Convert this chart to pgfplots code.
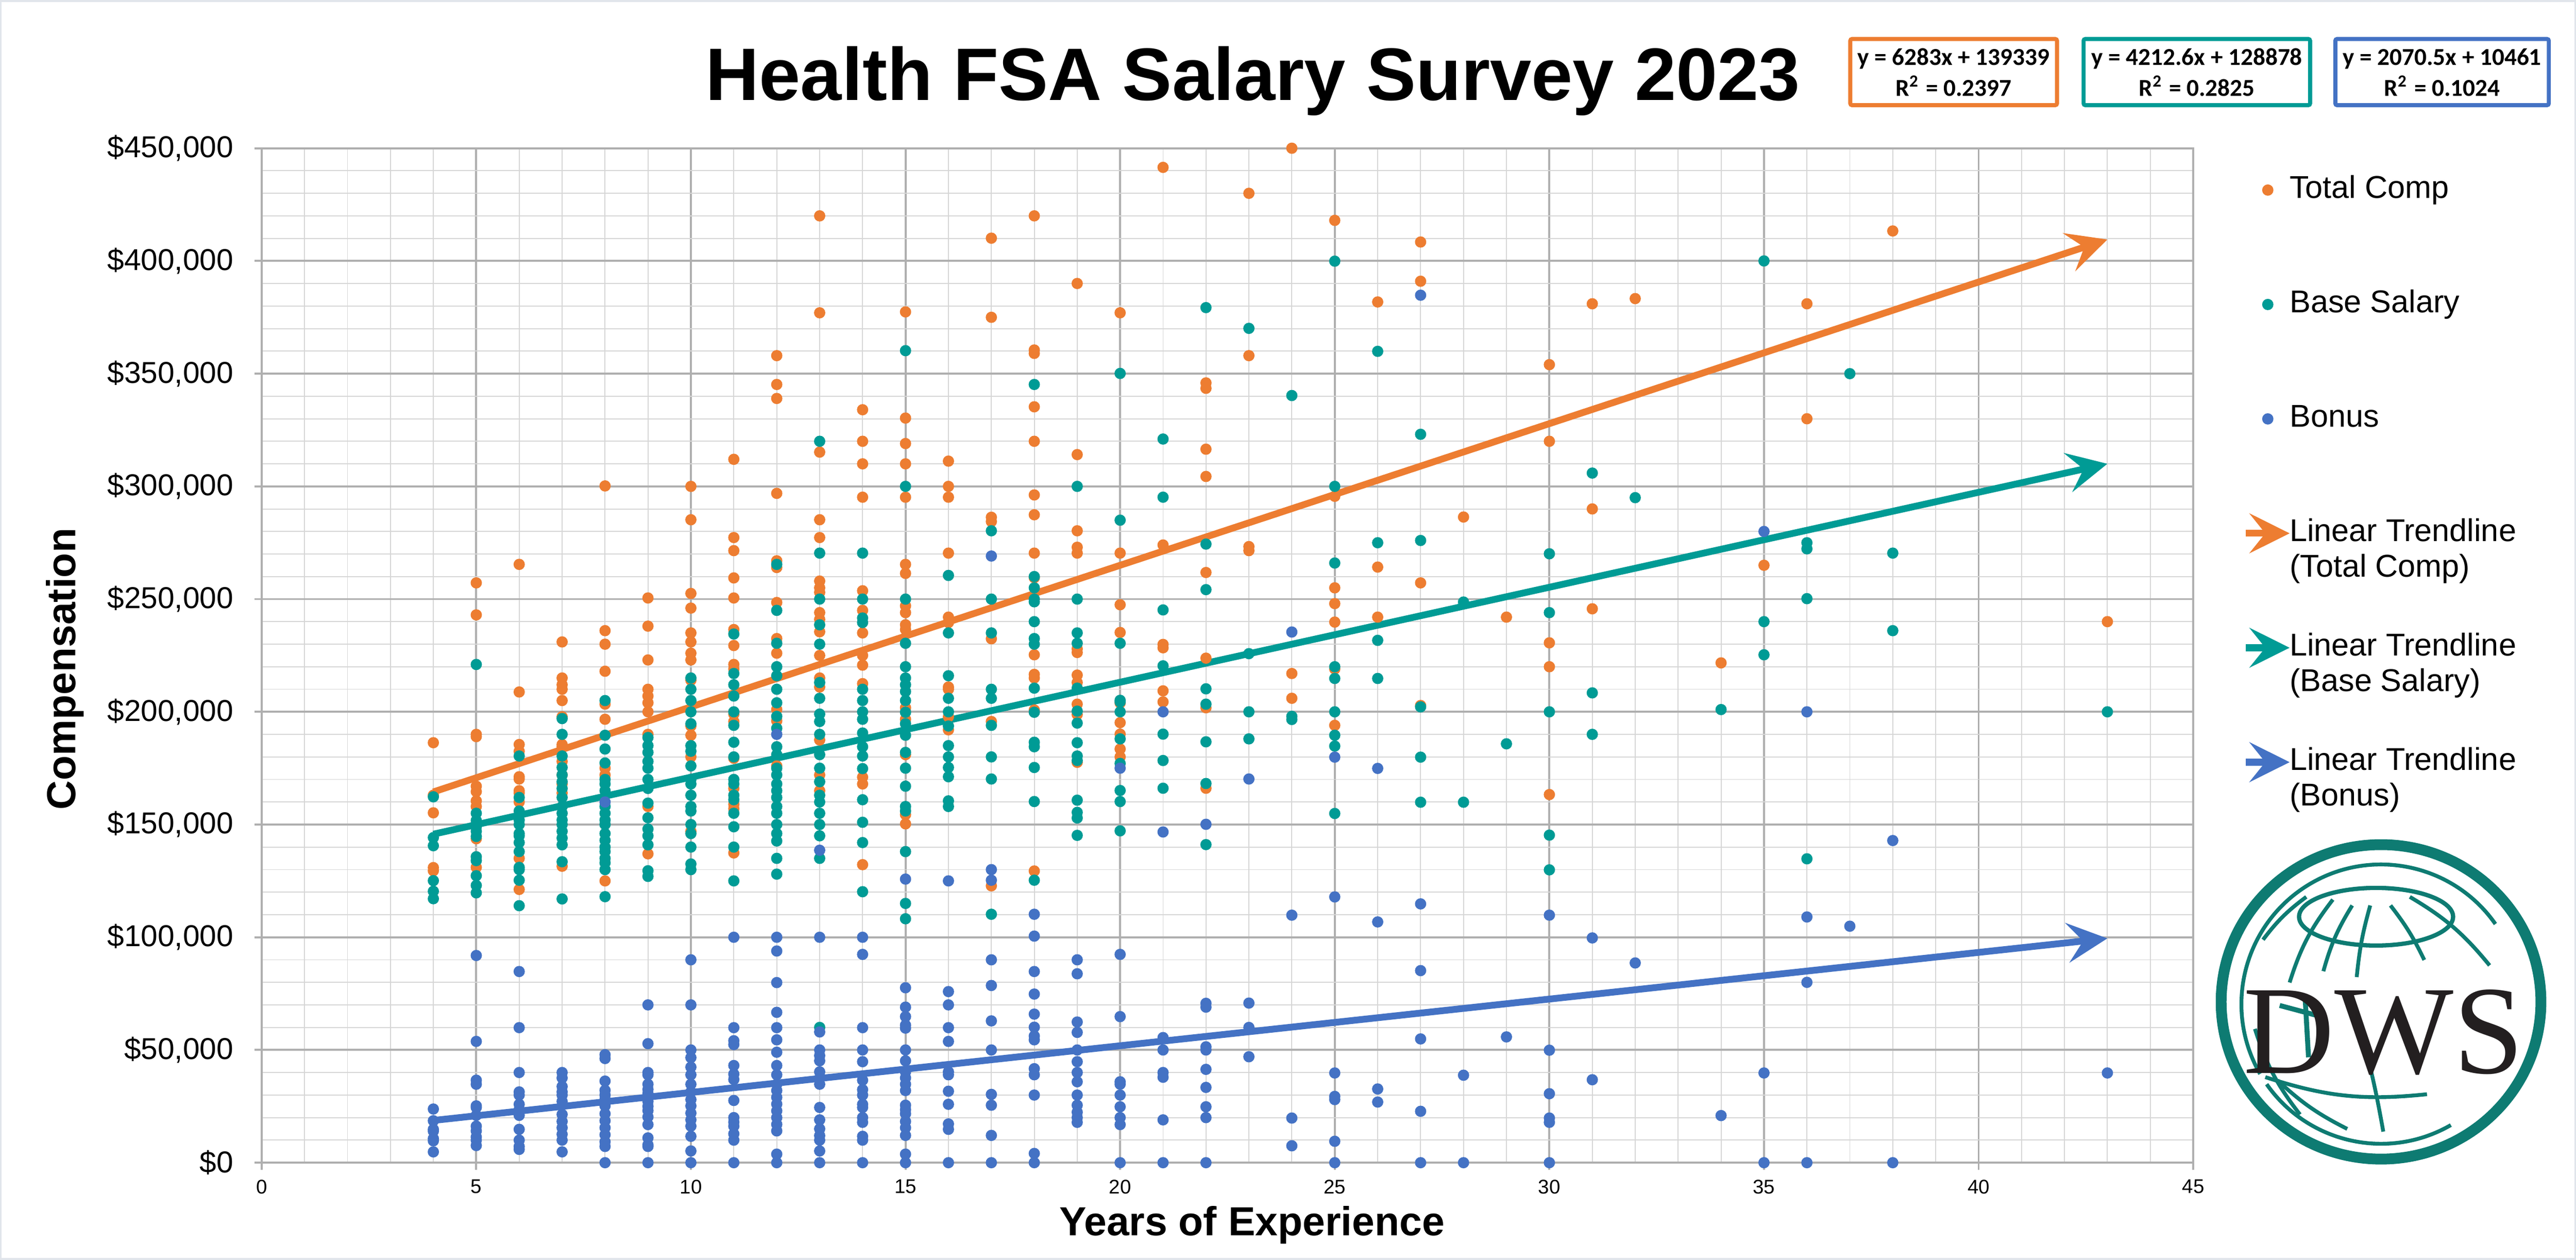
\documentclass[border=0pt]{standalone}
\usepackage{pgfplots}
\pgfplotsset{compat=1.18}
\usepackage{fontspec}
\setmainfont{Liberation Sans}
\newfontfamily\eqfont{Carlito}
\newfontfamily\logofont{Liberation Serif}
\usetikzlibrary{arrows.meta}
\definecolor{tcorange}{HTML}{ED7D31}
\definecolor{tcteal}{HTML}{009B95}
\definecolor{tcblue}{HTML}{4472C4}
\definecolor{gridmaj}{HTML}{AFAFAF}
\definecolor{gridmin}{HTML}{D6D6D6}
\definecolor{logoteal}{HTML}{0E7B72}
\definecolor{framecol}{HTML}{E1E5EB}
\definecolor{logoblack}{HTML}{231F20}
\tikzset{trendarrow/.style={-{Stealth[length=8.9pt,width=8.8pt,inset=3.5pt]}}}
\newcommand{\twoline}[2]{\raisebox{0pt}[5.1pt][1.5pt]{\begin{tabular}[t]{@{}l@{}}#1\\#2\end{tabular}}}
\begin{document}
\begin{tikzpicture}
\fill[white] (0,0) rectangle (572pt,279.7pt);
\useasboundingbox (0,0) rectangle (572pt,279.7pt);
\draw[framecol, line width=0.4pt] (0.2pt,0.2pt) rectangle (571.8pt,279.5pt);
\begin{axis}[
  at={(58.1pt,21.6pt)}, anchor=south west,
  scale only axis, width=428.9pt, height=225.2pt,
  xmin=0, xmax=45, ymin=0, ymax=450,
  xtick={0,5,...,45}, xticklabels={0,5,10,15,20,25,30,35,40,45},
  ytick={0,50,...,450},
  yticklabels={{\$0},{\$50,000},{\$100,000},{\$150,000},{\$200,000},{\$250,000},{\$300,000},{\$350,000},{\$400,000},{\$450,000}},
  minor x tick num=4, minor y tick num=4,
  grid=both,
  major grid style={gridmaj, line width=0.45pt},
  minor grid style={gridmin, line width=0.22pt},
  axis line style={gridmaj, line width=0.45pt},
  tick style={gridmaj, line width=0.45pt},
  major tick length=1.6pt, minor tick length=0pt, tick align=outside,
  xtick pos=bottom, ytick pos=left,
  clip=false,
  yticklabel style={anchor=east, inner sep=0pt, font=\fontsize{6.7}{8}\selectfont, xshift=-4.5pt},
  xticklabel style={anchor=north, inner sep=0pt, font=\fontsize{4.4}{5}\selectfont, yshift=-2pt},
  title={Health FSA Salary Survey 2023},
  every axis title/.style={at={(axis description cs:0.5132,1.0475)}, anchor=base, inner sep=0pt, font=\bfseries\fontsize{16.5}{18}\selectfont},
  xlabel={Years of Experience},
  xlabel style={at={(axis description cs:0.5127,-0.0719)}, anchor=base, inner sep=0pt, font=\bfseries\fontsize{9}{10}\selectfont},
  ylabel={Compensation},
  ylabel style={at={(axis description cs:-0.0965,0.4867)}, anchor=base, inner sep=0pt, font=\bfseries\fontsize{9}{10}\selectfont},
  legend style={at={(1.0273,0.9734)}, anchor=north west, draw=none, fill=none, inner sep=0pt, outer sep=0pt,
    font=\fontsize{7}{7.9}\selectfont, row sep=18.8pt,
    nodes={inner sep=0pt, text height=5.1pt, text depth=1.5pt}},
  legend cell align=left,
  /tikz/every even column/.append style={column sep=1.2pt},
]
% Total Comp
\addplot[only marks, mark=*, mark size=1.05pt, color=tcorange, mark options={draw=none, fill=tcorange},
  legend image code/.code={\fill[tcorange] (4.85pt,0pt) circle[radius=1.05pt]; \path[draw=none,fill=none] (0pt,0pt) (9.7pt,0pt);}]
coordinates {
(4,186.3) (4,163) (4,155.2) (4,130.9) (4,129.5)
(5,257.2) (5,243) (5,190) (5,189) (5,167) (5,164.6) (5,160.5) (5,158) (5,143.7) (5,131)
(6,265.4) (6,208.8) (6,185.5) (6,182.5) (6,171.2) (6,170.2) (6,165) (6,164) (6,160) (6,135) (6,121.2)
(7,231) (7,215) (7,212) (7,210) (7,205) (7,197.8) (7,185.5) (7,184.5) (7,178) (7,172) (7,168) (7,164) (7,131.5)
(8,300.2) (8,236) (8,230) (8,218) (8,203.4) (8,196.7) (8,175) (8,172) (8,125)
(9,250.5) (9,238) (9,223) (9,210) (9,207) (9,204) (9,200) (9,190) (9,158) (9,137)
(10,300) (10,285.2) (10,252.5) (10,246) (10,235) (10,231) (10,226) (10,223) (10,214) (10,193.7) (10,189.6) (10,180) (10,147)
(11,312) (11,277.3) (11,271.5) (11,259.4) (11,250.5) (11,236.5) (11,229.4) (11,221) (11,219) (11,199) (11,195.7) (11,179.4) (11,166) (11,159) (11,157) (11,137.4)
(12,358) (12,345.2) (12,339) (12,296.9) (12,267) (12,264) (12,248.5) (12,232.5) (12,226) (12,201) (12,196) (12,176)
(13,420) (13,377) (13,315.2) (13,285.2) (13,277.3) (13,258) (13,255) (13,253) (13,244) (13,241) (13,235.5) (13,225) (13,215) (13,211) (13,187.5) (13,172) (13,165)
(14,334) (14,320) (14,310) (14,295.2) (14,253.7) (14,245) (14,235) (14,225) (14,220.7) (14,212.5) (14,171) (14,168) (14,132.2)
(15,377.4) (15,330.3) (15,319) (15,310) (15,295.2) (15,265.4) (15,261.4) (15,247) (15,244) (15,238.6) (15,236.5) (15,201.8) (15,196.7) (15,181) (15,154.4) (15,150.3)
(16,311.2) (16,300) (16,295.2) (16,270.4) (16,242) (16,239.6) (16,211) (16,210) (16,197.8) (16,192)
(17,410.1) (17,375) (17,286.3) (17,284.4) (17,232.4) (17,195.7) (17,122.8)
(18,420) (18,360.5) (18,359) (18,335.3) (18,320) (18,296.2) (18,287.4) (18,270.4) (18,259.5) (18,225.3) (18,216.6) (18,215) (18,200.8) (18,129.4)
(19,390) (19,314.1) (19,280.3) (19,273) (19,270.4) (19,227.9) (19,226.3) (19,216.3) (19,213) (19,203.4) (19,198.8) (19,177.6)
(20,377) (20,270.4) (20,247.5) (20,235.2) (20,203.9) (20,195.2) (20,190.1) (20,183.5) (20,180)
(21,441.5) (21,274) (21,229.9) (21,228.4) (21,209.3) (21,204.4)
(22,345.9) (22,343.5) (22,316.5) (22,304.4) (22,261.8) (22,223.8) (22,201.8) (22,166.1)
(23,430) (23,358) (23,273.3) (23,271.5)
(24,450) (24,217) (24,206)
(25,418) (25,295.6) (25,255) (25,248) (25,239.8) (25,219) (25,194)
(26,381.8) (26,264.2) (26,242)
(27,408.4) (27,391) (27,257.2) (27,202.8)
(28,286.4) (29,242)
(30,354) (30,320) (30,230.6) (30,220) (30,163.3)
(31,381) (31,290) (31,245.7)
(32,383.3) (34,221.7) (35,265) (36,381) (36,330) (38,413.3) (43,240)
};
\addlegendentry{Total Comp}
% Base Salary
\addplot[only marks, mark=*, mark size=1.05pt, color=tcteal, mark options={draw=none, fill=tcteal},
  legend image code/.code={\fill[tcteal] (4.85pt,0pt) circle[radius=1.05pt]; \path[draw=none,fill=none] (0pt,0pt) (9.7pt,0pt);}]
coordinates {
(4,162.3) (4,144.2) (4,140.6) (4,125.1) (4,120.4) (4,117.1)
(5,221) (5,155) (5,151.8) (5,149) (5,147) (5,144.7) (5,135.7) (5,134) (5,127.3) (5,123) (5,119.7)
(6,180.4) (6,162) (6,156) (6,152) (6,150) (6,146) (6,145) (6,142) (6,138) (6,131) (6,130) (6,125.3) (6,114)
(7,197) (7,190) (7,180.4) (7,175.3) (7,172) (7,169) (7,166) (7,162) (7,158) (7,155) (7,152) (7,150) (7,147) (7,144) (7,141) (7,133.5) (7,117)
(8,205) (8,189.6) (8,183.5) (8,177.3) (8,170) (8,168) (8,165) (8,158) (8,155) (8,152) (8,150) (8,146) (8,143) (8,140) (8,138) (8,135) (8,133) (8,130) (8,118)
(9,188.6) (9,185) (9,182) (9,178) (9,175) (9,170) (9,166) (9,159.5) (9,153) (9,148) (9,145) (9,141) (9,129.5) (9,127)
(10,215) (10,210) (10,205) (10,200) (10,194.7) (10,185) (10,182.5) (10,176) (10,170) (10,168) (10,163) (10,158) (10,156) (10,150) (10,146) (10,140) (10,132.5) (10,130)
(11,234.5) (11,217) (11,212) (11,207) (11,200) (11,194) (11,186.5) (11,180) (11,170) (11,168) (11,163) (11,161) (11,155) (11,149) (11,140) (11,125)
(12,265.4) (12,245) (12,230.4) (12,220) (12,216) (12,210) (12,204) (12,198) (12,192.7) (12,184.5) (12,181) (12,175) (12,172) (12,168) (12,165) (12,162) (12,158) (12,155) (12,150) (12,146) (12,142.7) (12,135) (12,128)
(13,320) (13,270.4) (13,250) (13,238.6) (13,230) (13,213) (13,206) (13,199) (13,195.7) (13,190) (13,181) (13,175) (13,169) (13,163) (13,160) (13,155) (13,150) (13,145) (13,135) (13,60)
(14,270.4) (14,250) (14,241.6) (14,239.6) (14,210) (14,205) (14,200) (14,196.7) (14,190.6) (14,184.5) (14,180.4) (14,174.8) (14,161) (14,151) (14,142) (14,120.2)
(15,360.2) (15,300) (15,250) (15,230.4) (15,220) (15,215) (15,212) (15,209) (15,205) (15,199.8) (15,194.7) (15,189.6) (15,182) (15,175) (15,167) (15,158) (15,156) (15,138) (15,115) (15,108.2)
(16,260.5) (16,235) (16,216) (16,206) (16,200) (16,193.7) (16,185) (16,180) (16,175.3) (16,171.2) (16,160.5) (16,158)
(17,280.3) (17,250) (17,235) (17,210) (17,206) (17,194) (17,180) (17,170.2) (17,110.2)
(18,345.2) (18,260) (18,255) (18,250) (18,248.8) (18,240) (18,232.5) (18,230) (18,210.5) (18,199.8) (18,186.5) (18,184.5) (18,175.3) (18,160.2) (18,125.3)
(19,300) (19,250) (19,235) (19,230.4) (19,210.5) (19,200.3) (19,195) (19,186.3) (19,180.4) (19,178.4) (19,160.8) (19,155.4) (19,152.9) (19,145.2)
(20,350.1) (20,285) (20,230.4) (20,205.1) (20,204.4) (20,200) (20,188) (20,177.1) (20,165.1) (20,160.2) (20,147.2)
(21,321) (21,295.2) (21,245.2) (21,220.4) (21,190.1) (21,178.4) (21,166.1)
(22,379.3) (22,274.4) (22,254.2) (22,210.2) (22,203.4) (22,186.7) (22,168.2) (22,141.1)
(23,370.1) (23,225.8) (23,200) (23,188)
(24,340.3) (24,198) (24,196.6)
(25,399.9) (25,300) (25,266) (25,220) (25,214.8) (25,200) (25,189.6) (25,184.8) (25,154.9)
(26,359.9) (26,275) (26,231.7) (26,214.8)
(27,323.1) (27,276) (27,202.2) (27,179.9) (27,159.9)
(28,248.7) (28,159.9) (29,185.8)
(30,270.1) (30,244) (30,200) (30,145.3) (30,129.9)
(31,305.9) (31,208.4) (31,190) (32,295) (34,201)
(35,400) (35,240) (35,225.3)
(36,275) (36,272.3) (36,250.2) (36,134.8)
(37,350) (38,270.4) (38,236) (43,200)
};
\addlegendentry{Base Salary}
% Bonus
\addplot[only marks, mark=*, mark size=1.05pt, color=tcblue, mark options={draw=none, fill=tcblue},
  legend image code/.code={\fill[tcblue] (4.85pt,0pt) circle[radius=1.05pt]; \path[draw=none,fill=none] (0pt,0pt) (9.7pt,0pt);}]
coordinates {
(4,23.8) (4,18.6) (4,14.8) (4,14) (4,10.7) (4,9.7) (4,4.8)
(5,91.9) (5,53.8) (5,36.6) (5,34.8) (5,25.2) (5,24.5) (5,21) (5,16.2) (5,14.1) (5,11.4) (5,10) (5,7.6)
(6,84.8) (6,59.9) (6,40) (6,31.4) (6,30) (6,25.9) (6,23.5) (6,21) (6,14.8) (6,10) (6,7.2) (6,5.9)
(7,40) (7,37.6) (7,33.8) (7,31.4) (7,30) (7,27.2) (7,21.4) (7,18.3) (7,15.5) (7,12.6) (7,10) (7,4.8)
(8,160) (8,47.9) (8,46.2) (8,36.2) (8,32.1) (8,30) (8,28) (8,25.2) (8,21.7) (8,18.6) (8,15.5) (8,12.4) (8,9.3) (8,7.2) (8,0)
(9,70) (9,52.8) (9,40) (9,39) (9,34.8) (9,32.5) (9,30.7) (9,27.2) (9,25) (9,23.1) (9,20.3) (9,16.9) (9,11) (9,7.9) (9,7.2) (9,0)
(10,90) (10,70) (10,50) (10,46.6) (10,42.4) (10,39) (10,34.8) (10,31.4) (10,28) (10,25.2) (10,22) (10,19) (10,16.2) (10,11.7) (10,5.2) (10,0)
(11,100) (11,59.9) (11,54.1) (11,52.4) (11,43.1) (11,39.3) (11,36.9) (11,27.6) (11,20) (11,18) (11,16.2) (11,12.8) (11,10) (11,0)
(12,190) (12,100) (12,93.9) (12,79.9) (12,66.7) (12,59.9) (12,54.5) (12,49) (12,43.1) (12,39) (12,34.8) (12,32) (12,29) (12,26) (12,23) (12,20) (12,17) (12,14.1) (12,3.8) (12,0)
(13,138.6) (13,100) (13,58) (13,50) (13,47.5) (13,45.2) (13,40.3) (13,37.5) (13,34.8) (13,24.5) (13,19) (13,15) (13,12) (13,10) (13,5.2) (13,0)
(14,100) (14,92.4) (14,59.9) (14,50) (14,44.8) (14,36.6) (14,32.4) (14,30) (14,25.9) (14,24.5) (14,20) (14,17.9) (14,11.7) (14,10) (14,0)
(15,125.8) (15,77.6) (15,69) (15,64.8) (15,61) (15,59.7) (15,50) (15,45.2) (15,40.3) (15,37.6) (15,34.8) (15,32) (15,25.5) (15,23.5) (15,21.7) (15,18.3) (15,15.5) (15,12.1) (15,3.8) (15,0)
(16,125) (16,75.9) (16,70) (16,59.9) (16,53.8) (16,40.3) (16,39) (16,31.7) (16,25.9) (16,17.2) (16,14.8) (16,0)
(17,269.1) (17,130) (17,125.3) (17,90) (17,78.6) (17,62.9) (17,50) (17,30.3) (17,25.5) (17,12.1) (17,0)
(18,110.2) (18,100.5) (18,84.8) (18,74.8) (18,65.9) (18,60.1) (18,56.2) (18,54.5) (18,41.7) (18,39) (18,30) (18,4.1) (18,0)
(19,90) (19,83.8) (19,62.4) (19,57.8) (19,50) (19,44.8) (19,40) (19,35.9) (19,30) (19,25.5) (19,22.4) (19,20) (19,17.9)
(20,175) (20,92.4) (20,64.8) (20,35.9) (20,34.8) (20,30) (20,24.8) (20,20) (20,16.9) (20,0)
(21,200) (21,146.7) (21,55.5) (21,50) (21,40) (21,37.9) (21,19) (21,0)
(22,150.1) (22,70.7) (22,69) (22,51.4) (22,50) (22,41.4) (22,33.4) (22,24.8) (22,20) (22,0)
(23,170.2) (23,70.8) (23,60) (23,47)
(24,235.4) (24,109.8) (24,19.8) (24,7.5)
(25,179.9) (25,117.9) (25,39.8) (25,29.4) (25,28) (25,9.5) (25,0)
(26,174.9) (26,106.8) (26,32.7) (26,26.9)
(27,384.8) (27,114.8) (27,85.2) (27,54.9) (27,22.8) (27,0)
(28,38.8) (28,0) (29,55.8)
(30,109.8) (30,49.9) (30,30.6) (30,19.8) (30,17.9) (30,0)
(31,99.7) (31,36.8) (32,88.6) (34,20.9)
(35,280) (35,39.8) (35,0)
(36,200) (36,109) (36,80) (36,0)
(37,104.9) (38,142.9) (38,0) (43,39.8)
};
\addlegendentry{Bonus}
% Trendlines
\addplot[tcorange, line width=1.5pt, trendarrow,
  legend image code/.code={\draw[overlay, tcorange, line width=1.5pt, trendarrow] (0pt,0pt) -- (9.7pt,0pt); \path[draw=none,fill=none] (0pt,0pt) (9.7pt,0pt);}]
coordinates {(4,164.471) (43,409.508)};
\addlegendentry{\twoline{Linear Trendline}{(Total Comp)}}
\addplot[tcteal, line width=1.5pt, trendarrow,
  legend image code/.code={\draw[overlay, tcteal, line width=1.5pt, trendarrow] (0pt,0pt) -- (9.7pt,0pt); \path[draw=none,fill=none] (0pt,0pt) (9.7pt,0pt);}]
coordinates {(4,145.728) (43,310.020)};
\addlegendentry{\twoline{Linear Trendline}{(Base Salary)}}
\addplot[tcblue, line width=1.5pt, trendarrow,
  legend image code/.code={\draw[overlay, tcblue, line width=1.5pt, trendarrow] (0pt,0pt) -- (9.7pt,0pt); \path[draw=none,fill=none] (0pt,0pt) (9.7pt,0pt);}]
coordinates {(4,18.743) (43,99.493)};
\addlegendentry{\twoline{Linear Trendline}{(Bonus)}}
\end{axis}
% equation boxes
\draw[tcorange, line width=0.9pt, rounded corners=0.4pt] (410.85pt,256.35pt) rectangle (456.75pt,271.05pt);
\draw[tcteal, line width=0.9pt, rounded corners=0.4pt] (462.65pt,256.35pt) rectangle (512.95pt,271.05pt);
\draw[tcblue, line width=0.9pt, rounded corners=0.4pt] (518.55pt,256.35pt) rectangle (565.95pt,271.05pt);
\begin{scope}[every node/.style={inner sep=0pt, anchor=base, font=\eqfont\bfseries\fontsize{5.4}{6}\selectfont}]
\node at (433.8pt,265.2pt) {y = 6283x + 139339};
\node at (433.8pt,258.4pt) {R\textsuperscript{2} = 0.2397};
\node at (487.8pt,265.2pt) {y = 4212.6x + 128878};
\node at (487.8pt,258.4pt) {R\textsuperscript{2} = 0.2825};
\node at (542.25pt,265.2pt) {y = 2070.5x + 10461};
\node at (542.25pt,258.4pt) {R\textsuperscript{2} = 0.1024};
\end{scope}
% logo
\begin{scope}[shift={(528.7pt,57.3pt)}, x=0.1pt, y=0.1pt]
\draw[logoteal, line width=2.4pt] (0,0) ellipse [x radius=355, y radius=349];
\begin{scope}[logoteal, line width=0.85pt]
\draw (0,-5) ++(35:310) arc[start angle=35, end angle=210, radius=310];
\draw (0,-5) ++(215:310) arc[start angle=215, end angle=300, radius=310];
\draw[line width=0.95pt] (-11,189) ellipse [x radius=171, y radius=64];
\draw (-24,214) to[bend right=5] (-54,55);
\draw (21,214) to[bend left=6] (96,93);
\draw (-64,214) to[bend right=8] (-128,68);
\draw (-107,227) to[bend right=10] (-203,43);
\draw (-166,233) to[bend right=8] (-262,138);
\draw (64,233) to[bend left=10] (241,81);
\draw (-54,-34) to[bend left=3] (5,-288);
\draw (-257,-167) to[bend right=12] (102,-205);
\draw (-230,-174) to[bend right=8] (-75,-282);
\draw (-280,-60) to[bend right=10] (-180,-250);
\draw[line width=1.1pt] (-169,17) -- (-161,-123);
\draw[line width=1.1pt] (-225,-8) -- (-128,-34);
\end{scope}
\node[anchor=base, inner sep=0pt, text=logoblack, font=\logofont\fontsize{28}{28}\selectfont] at (6,-158) {DWS};
\end{scope}
\end{tikzpicture}
\end{document}
